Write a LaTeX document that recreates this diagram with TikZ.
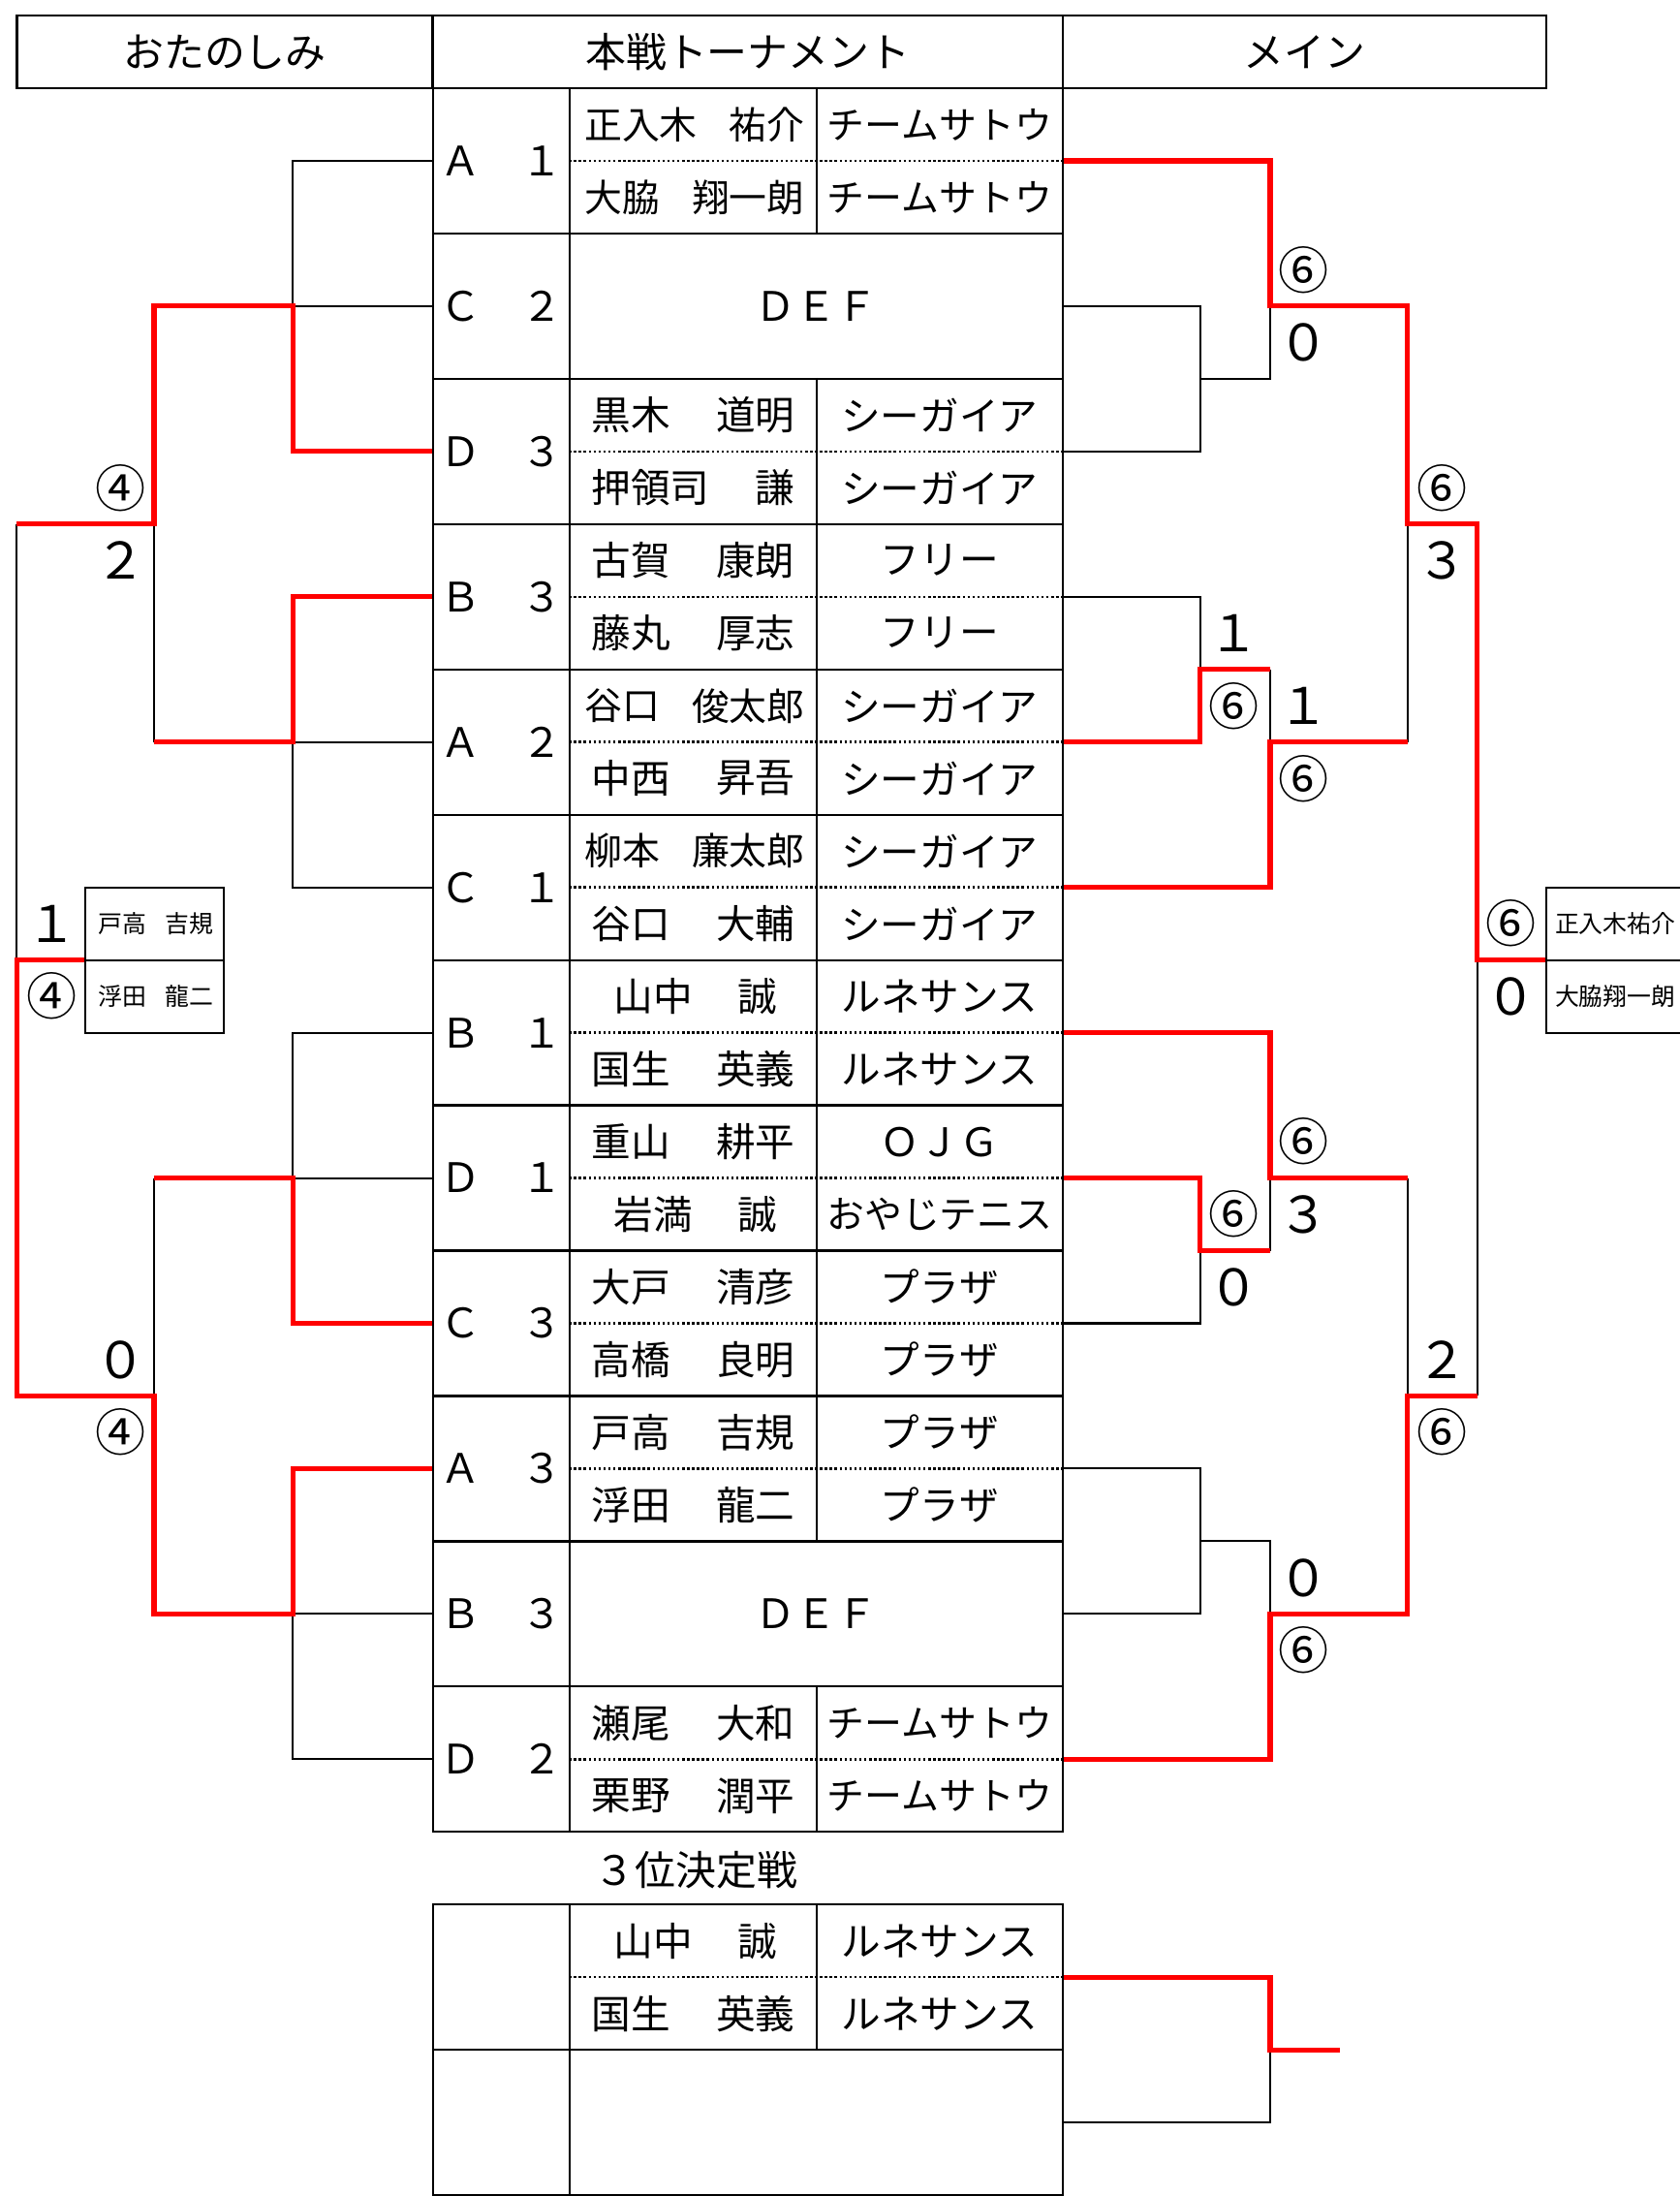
\documentclass[tikz,border=0pt]{standalone}
\usepackage{fontspec}
\setmainfont{Noto Sans CJK JP}
\usetikzlibrary{positioning,calc}

\begin{document}
\begin{tikzpicture}[x=0.02cm, y=-1.0375cm,
    head/.style={draw, line width=0.9pt, rectangle, minimum height=1.0375cm, inner sep=0pt, font=\fontsize{16.5}{18}\selectfont},
    seed/.style={draw, line width=0.9pt, rectangle, minimum width=1.96cm, minimum height=2.075cm, inner sep=0pt, font=\fontsize{16.5}{18}\selectfont},
    body/.style={draw, line width=0.9pt, rectangle, minimum width=7.04cm, minimum height=2.075cm, inner sep=0pt, font=\fontsize{16.5}{18}\selectfont},
    final/.style={draw, line width=0.8pt, rectangle, minimum height=2.075cm, inner sep=0pt},
    txt/.style={inner sep=0pt, font=\fontsize{16}{18}\selectfont},
    wide/.style={inner sep=0pt, font=\fontsize{15.3}{18}\selectfont},
    small/.style={inner sep=0pt, font=\fontsize{9.8}{11}\selectfont},
    score/.style={inner sep=0pt, font=\fontsize{20.5}{22}\selectfont},
    sep/.style={line width=0.9pt},
    dots/.style={line width=1pt, dash pattern=on 1pt off 1pt},
    bk/.style={line width=0.8pt},
    win/.style={red, line width=2pt}]
    \useasboundingbox (0,-1.2145) rectangle (1199,29.012);

    % Header
    \node[head, minimum width=5.94cm] (h1) at (160.5,-0.5) {おたのしみ};
    \node[head, minimum width=9cm] (h2) at (534,-0.5) {本戦トーナメント};
    \node[head, minimum width=6.9cm] (h3) at (931.5,-0.5) {メイン};

    % Entries
    \node[seed] (s1) at (358,1) {Ａ　１};
    \node[body] (b1) at (583,1) {};
    \draw[sep] (b1.north) -- (b1.south);
    \draw[dots] (b1.west) -- (b1.east);
    \node[wide, anchor=west] (f1a) at (417,0.5) {正入木};
    \node[wide, anchor=east] (g1a) at (575,0.5) {祐介};
    \node[wide, anchor=west] (f1b) at (417,1.5) {大脇};
    \node[wide, anchor=east] (g1b) at (575,1.5) {翔一朗};
    \node[wide] (t1a) at (671,0.5) {チームサトウ};
    \node[wide] (t1b) at (671,1.5) {チームサトウ};

    \node[seed] (s2) at (358,3) {Ｃ　２};
    \node[body] (b2) at (583,3) {ＤＥＦ};

    \node[seed] (s3) at (358,5) {Ｄ　３};
    \node[body] (b3) at (583,5) {};
    \draw[sep] (b3.north) -- (b3.south);
    \draw[dots] (b3.west) -- (b3.east);
    \node[txt, anchor=west] (f3a) at (422,4.5) {黒木};
    \node[txt, anchor=east] (g3a) at (568,4.5) {道明};
    \node[txt, anchor=west] (f3b) at (422,5.5) {押領司};
    \node[txt, anchor=east] (g3b) at (568,5.5) {謙};
    \node[txt] (t3a) at (671,4.5) {シーガイア};
    \node[txt] (t3b) at (671,5.5) {シーガイア};

    \node[seed] (s4) at (358,7) {Ｂ　３};
    \node[body] (b4) at (583,7) {};
    \draw[sep] (b4.north) -- (b4.south);
    \draw[dots] (b4.west) -- (b4.east);
    \node[txt, anchor=west] (f4a) at (422,6.5) {古賀};
    \node[txt, anchor=east] (g4a) at (568,6.5) {康朗};
    \node[txt, anchor=west] (f4b) at (422,7.5) {藤丸};
    \node[txt, anchor=east] (g4b) at (568,7.5) {厚志};
    \node[txt] (t4a) at (671,6.5) {フリー};
    \node[txt] (t4b) at (671,7.5) {フリー};

    \node[seed] (s5) at (358,9) {Ａ　２};
    \node[body] (b5) at (583,9) {};
    \draw[sep] (b5.north) -- (b5.south);
    \draw[dots] (b5.west) -- (b5.east);
    \node[wide, anchor=west] (f5a) at (417,8.5) {谷口};
    \node[wide, anchor=east] (g5a) at (575,8.5) {俊太郎};
    \node[txt, anchor=west] (f5b) at (422,9.5) {中西};
    \node[txt, anchor=east] (g5b) at (568,9.5) {昇吾};
    \node[txt] (t5a) at (671,8.5) {シーガイア};
    \node[txt] (t5b) at (671,9.5) {シーガイア};

    \node[seed] (s6) at (358,11) {Ｃ　１};
    \node[body] (b6) at (583,11) {};
    \draw[sep] (b6.north) -- (b6.south);
    \draw[dots] (b6.west) -- (b6.east);
    \node[wide, anchor=west] (f6a) at (417,10.5) {柳本};
    \node[wide, anchor=east] (g6a) at (575,10.5) {廉太郎};
    \node[txt, anchor=west] (f6b) at (422,11.5) {谷口};
    \node[txt, anchor=east] (g6b) at (568,11.5) {大輔};
    \node[txt] (t6a) at (671,10.5) {シーガイア};
    \node[txt] (t6b) at (671,11.5) {シーガイア};

    \node[seed] (s7) at (358,13) {Ｂ　１};
    \node[body] (b7) at (583,13) {};
    \draw[sep] (b7.north) -- (b7.south);
    \draw[dots] (b7.west) -- (b7.east);
    \node[txt, anchor=west] (f7a) at (438,12.5) {山中};
    \node[txt, anchor=east] (g7a) at (555,12.5) {誠};
    \node[txt, anchor=west] (f7b) at (422,13.5) {国生};
    \node[txt, anchor=east] (g7b) at (568,13.5) {英義};
    \node[txt] (t7a) at (671,12.5) {ルネサンス};
    \node[txt] (t7b) at (671,13.5) {ルネサンス};

    \node[seed] (s8) at (358,15) {Ｄ　１};
    \node[body] (b8) at (583,15) {};
    \draw[sep] (b8.north) -- (b8.south);
    \draw[dots] (b8.west) -- (b8.east);
    \node[txt, anchor=west] (f8a) at (422,14.5) {重山};
    \node[txt, anchor=east] (g8a) at (568,14.5) {耕平};
    \node[txt, anchor=west] (f8b) at (438,15.5) {岩満};
    \node[txt, anchor=east] (g8b) at (555,15.5) {誠};
    \node[txt] (t8a) at (671,14.5) {ＯＪＧ};
    \node[wide] (t8b) at (671,15.5) {おやじテニス};

    \node[seed] (s9) at (358,17) {Ｃ　３};
    \node[body] (b9) at (583,17) {};
    \draw[sep] (b9.north) -- (b9.south);
    \draw[dots] (b9.west) -- (b9.east);
    \node[txt, anchor=west] (f9a) at (422,16.5) {大戸};
    \node[txt, anchor=east] (g9a) at (568,16.5) {清彦};
    \node[txt, anchor=west] (f9b) at (422,17.5) {高橋};
    \node[txt, anchor=east] (g9b) at (568,17.5) {良明};
    \node[txt] (t9a) at (671,16.5) {プラザ};
    \node[txt] (t9b) at (671,17.5) {プラザ};

    \node[seed] (s10) at (358,19) {Ａ　３};
    \node[body] (b10) at (583,19) {};
    \draw[sep] (b10.north) -- (b10.south);
    \draw[dots] (b10.west) -- (b10.east);
    \node[txt, anchor=west] (f10a) at (422,18.5) {戸高};
    \node[txt, anchor=east] (g10a) at (568,18.5) {吉規};
    \node[txt, anchor=west] (f10b) at (422,19.5) {浮田};
    \node[txt, anchor=east] (g10b) at (568,19.5) {龍二};
    \node[txt] (t10a) at (671,18.5) {プラザ};
    \node[txt] (t10b) at (671,19.5) {プラザ};

    \node[seed] (s11) at (358,21) {Ｂ　３};
    \node[body] (b11) at (583,21) {ＤＥＦ};

    \node[seed] (s12) at (358,23) {Ｄ　２};
    \node[body] (b12) at (583,23) {};
    \draw[sep] (b12.north) -- (b12.south);
    \draw[dots] (b12.west) -- (b12.east);
    \node[txt, anchor=west] (f12a) at (422,22.5) {瀬尾};
    \node[txt, anchor=east] (g12a) at (568,22.5) {大和};
    \node[txt, anchor=west] (f12b) at (422,23.5) {栗野};
    \node[txt, anchor=east] (g12b) at (568,23.5) {潤平};
    \node[wide] (t12a) at (671,22.5) {チームサトウ};
    \node[wide] (t12b) at (671,23.5) {チームサトウ};

    % Third place
    \node[head, draw=none] (third) at (497,24.52) {３位決定戦};
    \node[seed] (ts1) at (358,26) {};
    \node[body] (tb1) at (583,26) {};
    \draw[sep] (tb1.north) -- (tb1.south);
    \draw[dots] (tb1.west) -- (tb1.east);
    \node[txt, anchor=west] (qf1) at (438,25.5) {山中};
    \node[txt, anchor=east] (qg1) at (555,25.5) {誠};
    \node[txt, anchor=west] (qf2) at (422,26.5) {国生};
    \node[txt, anchor=east] (qg2) at (568,26.5) {英義};
    \node[txt] (qt1) at (671,25.5) {ルネサンス};
    \node[txt] (qt2) at (671,26.5) {ルネサンス};
    \node[seed] (ts2) at (358,28) {};
    \node[body] (tb2) at (583,28) {};

    % Final boxes
    \node[final, minimum width=1.98cm] (fl) at (110.5,12) {};
    \draw[bk] (fl.west) -- (fl.east);
    \node[small, anchor=west] (fl1) at (70,11.5) {戸高};
    \node[small, anchor=east] (fl2) at (153,11.5) {吉規};
    \node[small, anchor=west] (fl3) at (70,12.5) {浮田};
    \node[small, anchor=east] (fl4) at (153,12.5) {龍二};
    \node[final, minimum width=2cm] (fr) at (1154,12) {};
    \draw[bk] (fr.west) -- (fr.east);
    \node[small] (fr1) at (1153.5,11.5) {正入木祐介};
    \node[small] (fr2) at (1153.5,12.5) {大脇翔一朗};

    % Junctions
    \coordinate (la) at (209,3);
    \coordinate (lb) at (209,9);
    \coordinate (lc) at (209,15);
    \coordinate (ld) at (209,21);
    \coordinate (le) at (110,6);
    \coordinate (lf) at (110,18);
    \coordinate (lg) at (12,12);
    \coordinate (ra) at (857,4);
    \coordinate (rb) at (857,8);
    \coordinate (rc) at (857,16);
    \coordinate (rd) at (857,20);
    \coordinate (re) at (907,3);
    \coordinate (rf) at (907,9);
    \coordinate (rg) at (907,15);
    \coordinate (rh) at (907,21);
    \coordinate (ri) at (1005,6);
    \coordinate (rj) at (1005,18);
    \coordinate (rk) at (1055,12);
    \coordinate (rt) at (907,27);
    \coordinate (te) at (957,27);

    % Brackets, left
    \draw[bk] (s1.west) -| (la) -- (s2.west);
    \draw[bk] (s5.west) -- (lb);
    \draw[bk] (s6.west) -| (lb);
    \draw[bk] (lb -| le) -- (le);
    \draw[bk] (s7.west) -| (lc) -- (s8.west);
    \draw[bk] (lc -| lf) -- (lf);
    \draw[bk] (s11.west) -- (ld);
    \draw[bk] (s12.west) -| (ld);
    \draw[bk] (le -| lg) -- (lg);
    \draw[win] (s3.west) -| (la) -- (la -| le) -- (le) -- (le -| lg);
    \draw[win] (s4.west) -| (lb) -- (lb -| le);
    \draw[win] (s9.west) -| (lc) -- (lc -| lf);
    \draw[win] (s10.west) -| (ld) -- (ld -| lf) -- (lf) -- (lf -| lg) -- (lg) -- (fl.west);

    % Brackets, right
    \draw[bk] (b2.east) -| (ra);
    \draw[bk] (b3.east) -| (ra) -- (ra -| re) -- (re);
    \draw[bk] (b4.east) -| (rb);
    \draw[bk] (rb -| rf) -- (rf);
    \draw[bk] (rf -| ri) -- (ri);
    \draw[bk] (rc -| rg) -- (rg);
    \draw[bk] (b9.east) -| (rc);
    \draw[bk] (rg -| rj) -- (rj);
    \draw[bk] (b10.east) -| (rd);
    \draw[bk] (b11.east) -| (rd) -- (rd -| rh) -- (rh);
    \draw[bk] (rj -| rk) -- (rk);
    \draw[bk] (tb2.east) -| (rt);
    \draw[win] (b1.east) -| (re) -- (re -| ri) -- (ri) -- (ri -| rk) -- (rk) -- (fr.west);
    \draw[win] (b5.east) -| (rb) -- (rb -| rf);
    \draw[win] (b6.east) -| (rf) -- (rf -| ri);
    \draw[win] (b7.east) -| (rg) -- (rg -| rj);
    \draw[win] (b8.east) -| (rc) -- (rc -| rg);
    \draw[win] (b12.east) -| (rh) -- (rh -| rj) -- (rj) -- (rj -| rk);
    \draw[win] (tb1.east) -| (rt) -- (te);

    % Scores, left
    \node[score] (p1) at (86,5.5) {④};
    \node[score] (p2) at (86,6.5) {２};
    \node[score] (p3) at (37,11.5) {１};
    \node[score] (p4) at (37,12.5) {④};
    \node[score] (p5) at (86,17.5) {０};
    \node[score] (p6) at (86,18.5) {④};

    % Scores, right
    \node[score] (q1) at (931,2.5) {⑥};
    \node[score] (q2) at (931,3.5) {０};
    \node[score] (q3) at (881,7.5) {１};
    \node[score] (q4) at (881,8.5) {⑥};
    \node[score] (q5) at (931,8.5) {１};
    \node[score] (q6) at (931,9.5) {⑥};
    \node[score] (q7) at (1030,5.5) {⑥};
    \node[score] (q8) at (1030,6.5) {３};
    \node[score] (q9) at (1079,11.5) {⑥};
    \node[score] (q10) at (1079,12.5) {０};
    \node[score] (q11) at (931,14.5) {⑥};
    \node[score] (q12) at (931,15.5) {３};
    \node[score] (q13) at (881,15.5) {⑥};
    \node[score] (q14) at (881,16.5) {０};
    \node[score] (q15) at (931,20.5) {０};
    \node[score] (q16) at (931,21.5) {⑥};
    \node[score] (q17) at (1030,17.5) {２};
    \node[score] (q18) at (1030,18.5) {⑥};
\end{tikzpicture}
\end{document}
